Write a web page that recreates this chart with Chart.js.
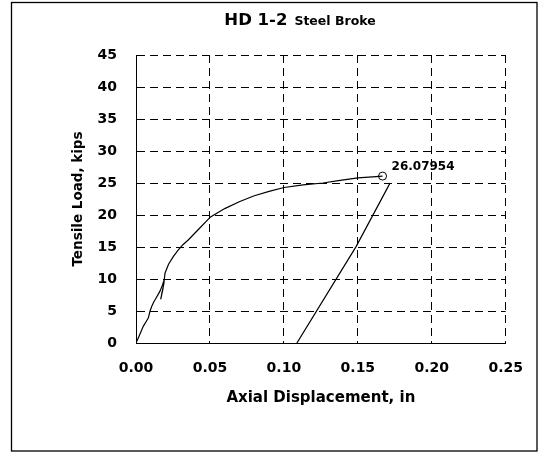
<!DOCTYPE html>
<html>
<head>
<meta charset="utf-8">
<script src="https://cdn.jsdelivr.net/npm/chart.js@4"></script>
<style>
html, body { margin: 0; padding: 0; background: #fff; }
</style>
</head>
<body>
<canvas id="chart-hd12" width="540" height="453"></canvas>
<script>
"use strict";
// HD 1-2 tension test, load vs. axial displacement
const titleMain = "HD 1-2";
const titleSub = "Steel Broke";
const xTitle = "Axial Displacement, in";
const yTitle = "Tensile Load, kips";

const xTickVals = [0, 0.05, 0.10, 0.15, 0.20, 0.25];
const yTickVals = [0, 5, 10, 15, 20, 25, 30, 35, 40, 45];

// loading branch (with the little slip near 10 kips)
const loadDisp = [0, 0.0025, 0.0049, 0.0070, 0.0083, 0.0095, 0.0106, 0.0120, 0.0135, 0.0150, 0.0162, 0.0178, 0.0191,
	0.0182, 0.0167, 0.0175, 0.0188, 0.0196, 0.0220, 0.0252, 0.0285, 0.0319, 0.0353, 0.0420, 0.0504, 0.0600,
	0.0702, 0.0800, 0.0900, 0.1001, 0.1130, 0.1264, 0.1380, 0.1500, 0.1600, 0.1667];
const loadKips = [0, 1.3, 2.6, 3.4, 3.9, 5.0, 5.7, 6.4, 7.0, 7.6, 8.1, 9.0, 9.9,
	8.4, 6.8, 7.8, 9.2, 10.9, 12.3, 13.5, 14.5, 15.4, 16.1, 17.7, 19.7, 21.0,
	22.1, 23.0, 23.7, 24.3, 24.7, 25.0, 25.4, 25.8, 25.95, 26.07954];

// unloading branch after fracture
const unloadDisp = [0.1718, 0.1695, 0.1489, 0.1088];
const unloadKips = [25.0, 24.0, 15.1, 0];

const peakDisp = 0.1667;
const peakLoad = 26.07954;

const FONT = "'DejaVu Sans', sans-serif";

function pts(xs, ys) {
	return xs.map((x, i) => ({ x: x, y: ys[i] }));
}

// white page + outer frame, then title and peak label on top
const framePlugin = {
	id: "frame",
	beforeDraw: (chart) => {
		const ctx = chart.ctx;
		ctx.save();
		ctx.fillStyle = "#fff";
		ctx.fillRect(0, 0, chart.width, chart.height);
		ctx.strokeStyle = "#000";
		ctx.lineWidth = 1.3;
		ctx.strokeRect(11.5, 2.5, 525.5, 448.5);
		ctx.restore();
	},
	afterDraw: (chart) => {
		const ctx = chart.ctx;
		ctx.save();
		ctx.fillStyle = "#000";
		ctx.textBaseline = "alphabetic";
		ctx.textAlign = "left";
		ctx.font = "bold 16.5px " + FONT;
		const w1 = ctx.measureText(titleMain).width;
		ctx.font = "bold 12.5px " + FONT;
		const w2 = ctx.measureText(titleSub).width;
		const gap = 7;
		let x0 = 300 - (w1 + gap + w2) / 2;
		ctx.font = "bold 16.5px " + FONT;
		ctx.fillText(titleMain, x0, 25);
		ctx.font = "bold 12.5px " + FONT;
		ctx.fillText(titleSub, x0 + w1 + gap, 25);

		// value of the peak point
		const pk = chart.getDatasetMeta(2).data[0];
		if (pk) {
			ctx.font = "bold 12px " + FONT;
			ctx.fillText(peakLoad.toString(), pk.x + 9, pk.y - 6);
		}
		ctx.restore();
	}
};

new Chart("chart-hd12", {
	type: "scatter",
	data: {
		datasets: [{
			data: pts(loadDisp, loadKips),
			showLine: true,
			borderColor: "#000",
			borderWidth: 1.2,
			pointRadius: 0,
			tension: 0
		}, {
			data: pts(unloadDisp, unloadKips),
			showLine: true,
			borderColor: "#000",
			borderWidth: 1.2,
			pointRadius: 0,
			tension: 0
		}, {
			data: [{ x: peakDisp, y: peakLoad }],
			showLine: false,
			pointRadius: 4,
			pointBorderWidth: 1,
			pointBorderColor: "#000",
			pointBackgroundColor: "rgba(0,0,0,0)"
		}]
	},
	options: {
		responsive: false,
		animation: false,
		layout: { padding: { top: 55, right: 33, left: 0, bottom: 0 } },
		plugins: {
			legend: { display: false },
			tooltip: { enabled: false }
		},
		scales: {
			x: {
				type: "linear",
				min: 0,
				max: 0.25,
				afterFit: (s) => { s.height = 110; },
				afterBuildTicks: (s) => { s.ticks = xTickVals.map(v => ({ value: v })); },
				grid: { color: "#000", lineWidth: 1, drawTicks: false },
				border: { display: true, color: "#000", width: 1, dash: [8, 5] },
				ticks: {
					padding: 17,
					color: "#000",
					font: { family: FONT, size: 14, weight: "bold" },
					callback: (v) => v.toFixed(2)
				},
				title: {
					display: true,
					text: xTitle,
					color: "#000",
					font: { family: FONT, size: 15, weight: "bold" },
					padding: { top: 0, bottom: 46 }
				}
			},
			y: {
				type: "linear",
				min: 0,
				max: 45,
				afterFit: (s) => { s.width = 136; },
				afterBuildTicks: (s) => { s.ticks = yTickVals.map(v => ({ value: v })); },
				grid: { color: "#000", lineWidth: 1, drawTicks: false },
				border: { display: true, color: "#000", width: 1, dash: [8, 5] },
				ticks: {
					padding: 19,
					color: "#000",
					font: { family: FONT, size: 14, weight: "bold" }
				},
				title: {
					display: true,
					text: yTitle,
					color: "#000",
					font: { family: FONT, size: 13.5, weight: "bold" },
					padding: { top: 70, bottom: 0 }
				}
			}
		}
	},
	plugins: [framePlugin]
});
</script>
</body>
</html>
